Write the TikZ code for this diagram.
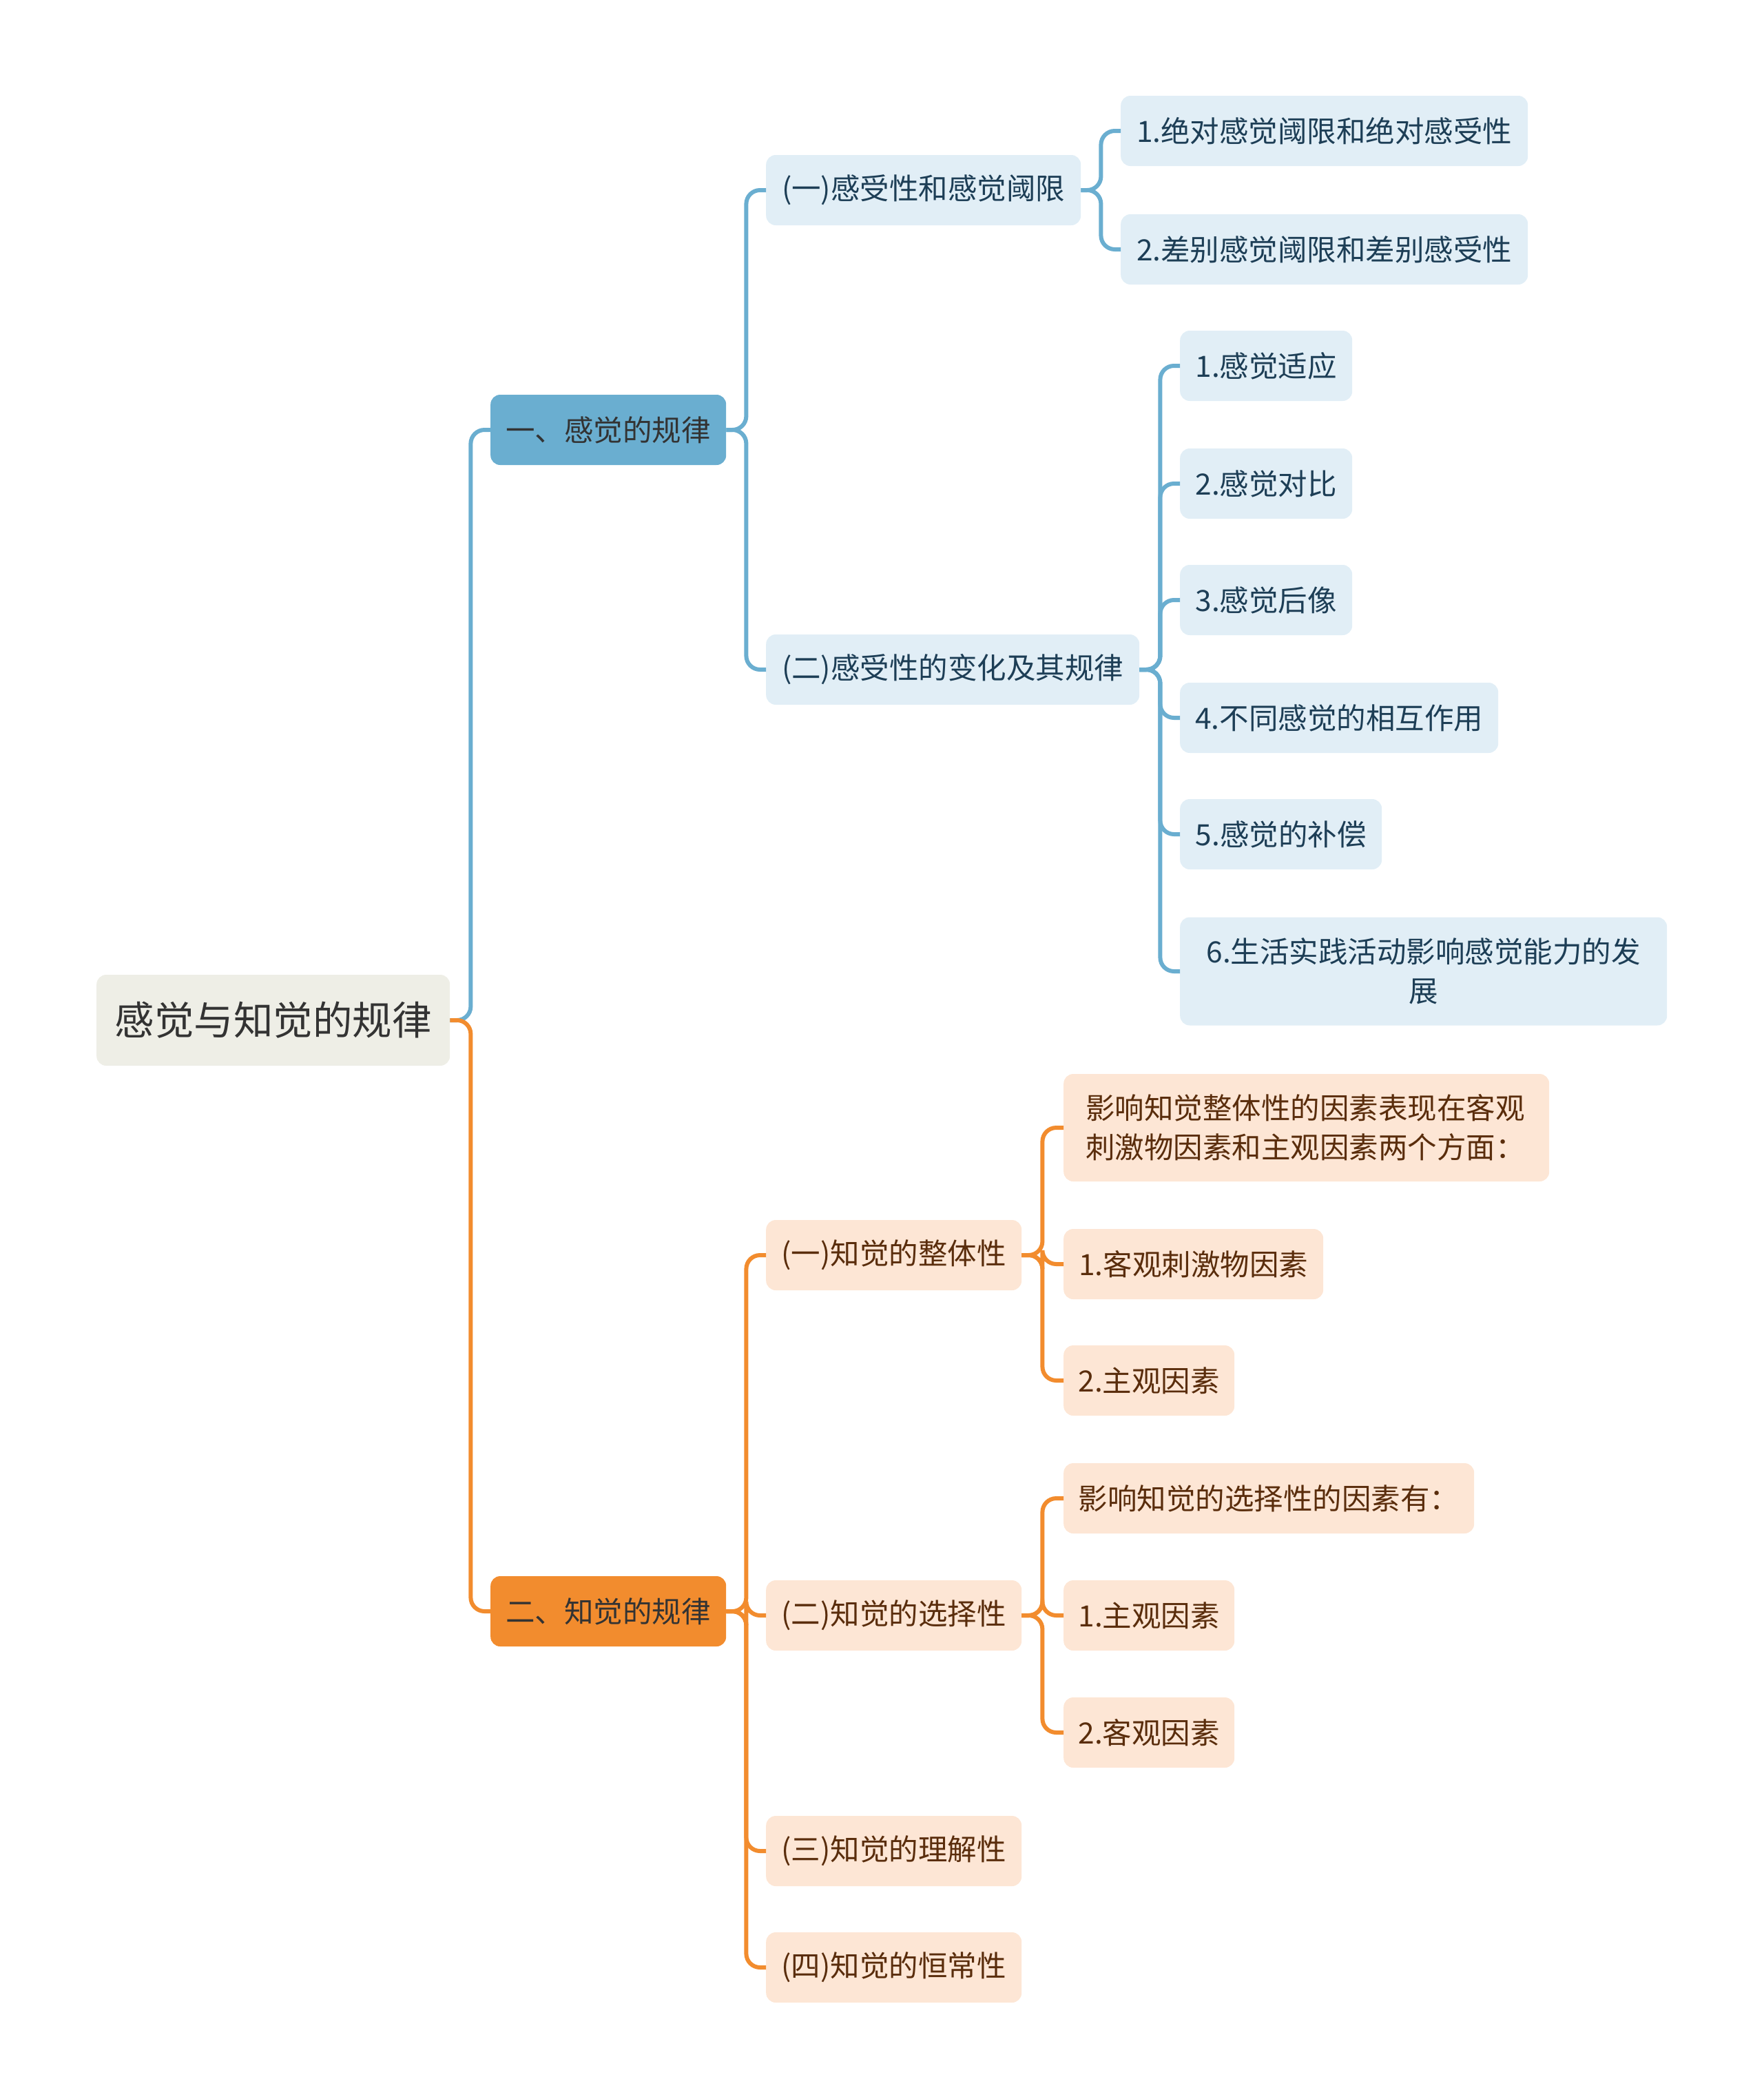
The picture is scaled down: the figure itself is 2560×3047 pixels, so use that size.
\documentclass[tikz,border=0pt]{standalone}
\usepackage{fontspec}
\setmainfont{Noto Sans CJK SC}
\definecolor{bluemain}{HTML}{6AAED0}
\definecolor{bluelight}{HTML}{E1EEF6}
\definecolor{bluetext}{HTML}{1D3E56}
\definecolor{orangemain}{HTML}{F28C2E}
\definecolor{orangelight}{HTML}{FDE6D5}
\definecolor{orangetext}{HTML}{5A2D0C}
\definecolor{rootfill}{HTML}{EEEEE6}
\begin{document}
\begin{tikzpicture}[x=1pt,y=-1pt,
  box/.style={rounded corners=14pt, anchor=west, minimum height=102pt, inner xsep=20pt, inner ysep=0pt, font=\fontsize{42.5}{57}\selectfont},
  bsub/.style={box, fill=bluelight, text=bluetext},
  osub/.style={box, fill=orangelight, text=orangetext},
  bline/.style={draw=bluemain, line width=6pt, rounded corners=20pt},
  oline/.style={draw=orangemain, line width=6pt, rounded corners=20pt}]
\useasboundingbox (0,0) rectangle (2560,3047);

% Root and main branches
\node[box, fill=rootfill, text=black!80, minimum width=513pt, minimum height=132pt, font=\fontsize{57.5}{60}\selectfont] (root) at (140,1481) {感觉与知觉的规律};
\node[box, fill=bluemain, text=black!80, minimum width=342pt, font=\fontsize{42.5}{50}\selectfont] (sense) at (712,624) {一、感觉的规律};
\node[box, fill=orangemain, text=black!80, minimum width=342pt, font=\fontsize{42.5}{50}\selectfont] (percept) at (712,2339) {二、知觉的规律};

% Sensation
\node[bsub, minimum width=457pt] (thresh) at (1112,276) {(一)感受性和感觉阈限};
\node[bsub, minimum width=542pt] (change) at (1112,972) {(二)感受性的变化及其规律};
\node[bsub, minimum width=591pt] (absl) at (1627,190) {1.绝对感觉阈限和绝对感受性};
\node[bsub, minimum width=591pt] (diff) at (1627,362) {2.差别感觉阈限和差别感受性};
\node[bsub, minimum width=250pt] (adapt) at (1713,531) {1.感觉适应};
\node[bsub, minimum width=250pt] (contrast) at (1713,702) {2.感觉对比};
\node[bsub, minimum width=250pt] (after) at (1713,871) {3.感觉后像};
\node[bsub, minimum width=462pt] (inter) at (1713,1042) {4.不同感觉的相互作用};
\node[bsub, minimum width=293pt] (comp) at (1713,1211) {5.感觉的补偿};
\node[bsub, text width=672pt, inner xsep=17.5pt, align=center, minimum height=157pt] (practice) at (1713,1410) {6.生活实践活动影响感觉能力的发\\展};

% Perception
\node[osub, minimum width=371pt] (whole) at (1112,1822) {(一)知觉的整体性};
\node[osub, minimum width=371pt] (select) at (1112,2345) {(二)知觉的选择性};
\node[osub, minimum width=371pt] (underst) at (1112,2687) {(三)知觉的理解性};
\node[osub, minimum width=371pt] (const) at (1112,2856) {(四)知觉的恒常性};
\node[osub, text width=641pt, inner xsep=32pt, align=left, minimum height=156pt] (wfac) at (1544,1637) {影响知觉整体性的因素表现在客观\\刺激物因素和主观因素两个方面：};
\node[osub, minimum width=377pt] (wobj) at (1544,1835) {1.客观刺激物因素};
\node[osub, minimum width=248pt] (wsubj) at (1544,2004) {2.主观因素};
\node[osub, minimum width=596pt] (sfac) at (1544,2175) {影响知觉的选择性的因素有：};
\node[osub, minimum width=248pt] (ssubj) at (1544,2345) {1.主观因素};
\node[osub, minimum width=248pt] (sobj) at (1544,2515) {2.客观因素};

% Connectors
\draw[bline] (root.east) -- ++(30,0) |- (sense.west);
\draw[oline] (root.east) -- ++(30,0) |- (percept.west);
\foreach \c in {thresh,change}
  \draw[bline] (sense.east) -- ++(29,0) |- (\c.west);
\foreach \c in {absl,diff}
  \draw[bline] (thresh.east) -- ++(29,0) |- (\c.west);
\foreach \c in {adapt,contrast,after,inter,comp,practice}
  \draw[bline] (change.east) -- ++(30,0) |- (\c.west);
\foreach \c in {whole,select,underst,const}
  \draw[oline] (percept.east) -- ++(29,0) |- (\c.west);
\foreach \c in {wfac,wobj,wsubj}
  \draw[oline] (whole.east) -- ++(30,0) |- (\c.west);
\foreach \c in {sfac,ssubj,sobj}
  \draw[oline] (select.east) -- ++(30,0) |- (\c.west);
\end{tikzpicture}
\end{document}
